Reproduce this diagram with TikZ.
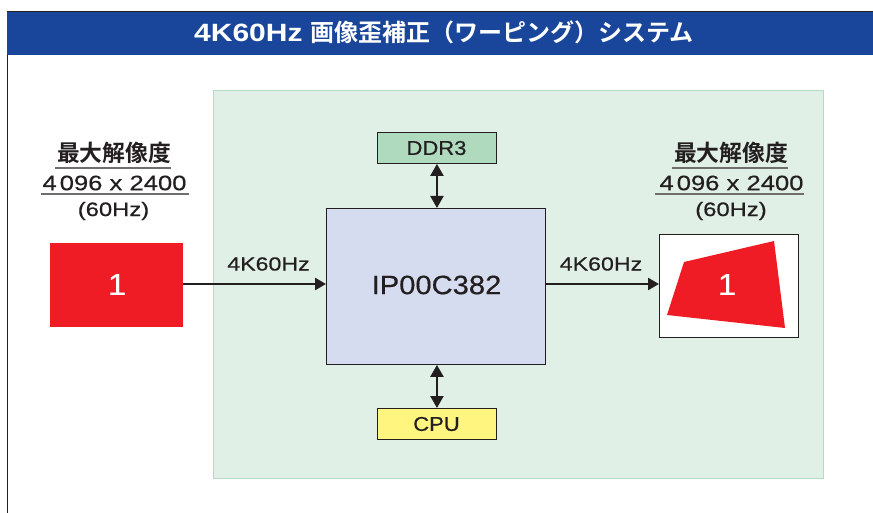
\documentclass[tikz,border=0pt]{standalone}
\usepackage{fontspec}
\setmainfont{Liberation Sans}
\newfontfamily\jpfont{Noto Sans CJK JP}[BoldFont={* Bold}]
\newfontfamily\wideA{Liberation Sans}[FakeStretch=1.1,FakeBold=0.5]
\newfontfamily\wideB{Liberation Sans}[FakeStretch=1.22,FakeBold=0.5]
\newfontfamily\wideT{Liberation Sans Bold}[FakeStretch=1.2]
\definecolor{ink}{HTML}{231F20}
\definecolor{headblue}{HTML}{19469A}
\definecolor{panelgreen}{HTML}{E1F0E6}
\definecolor{paneledge}{HTML}{B5DCC3}
\definecolor{mainblue}{HTML}{D6DCF0}
\definecolor{ddrgreen}{HTML}{B0DABE}
\definecolor{cpuyellow}{HTML}{FFF57F}
\definecolor{redbox}{HTML}{EF1C25}
\usetikzlibrary{arrows.meta}
\tikzset{
  txta/.style={text=ink,inner sep=0pt,font=\fontsize{#1}{#1}\selectfont\wideA},
  txtb/.style={text=ink,inner sep=0pt,font=\fontsize{#1}{#1}\selectfont\wideB},
  jptxt/.style={text=ink,inner sep=0pt,font=\fontsize{#1}{#1}\selectfont\jpfont\bfseries},
  onetxt/.style={text=white,inner sep=0pt,font=\fontsize{30}{30}\selectfont\wideA},
  box/.style={draw=ink,line width=0.9pt,inner sep=0pt},
  flow/.style={draw=ink,line width=2.5pt,-{Triangle[length=11pt,width=12pt]}},
  dflow/.style={draw=ink,line width=2.3pt,{Triangle[length=12pt,width=13pt]}-{Triangle[length=12pt,width=13pt]}},
  rule/.style={draw=ink!65,line width=1.3pt}
}
\begin{document}
\begin{tikzpicture}[x=1pt,y=-1pt]
\useasboundingbox (0,0) rectangle (873,513);
\fill[white] (0,0) rectangle (873,513);
% frame
\draw[draw=ink,line width=1pt] (7.5,513) -- (7.5,12) -- (873,12);
\node[fill=headblue,minimum width=866pt,minimum height=43pt,inner sep=0pt,anchor=north west] (head) at (7,12) {};
\node[text=white,inner sep=0pt,anchor=base west] (title) at (194,41.5) {\fontsize{25}{25}\selectfont\wideT 4K60Hz\hspace{8pt}\fontsize{24}{24}\selectfont\jpfont\bfseries 画像歪補正（ワーピング）システム};
% panel
\node[fill=panelgreen,draw=paneledge,line width=1.4pt,minimum width=610pt,minimum height=388pt,inner sep=0pt,anchor=north west] (panel) at (213,90) {};
% boxes
\node[box,fill=mainblue,minimum width=219pt,minimum height=156pt,anchor=north west] (main) at (326,208) {};
\node[txta=26.5] at (436.5,285) {IP00C382};
\node[box,fill=ddrgreen,minimum width=119pt,minimum height=31pt,anchor=north west] (ddr) at (377,132) {};
\node[txta=20] at (436.5,148) {DDR3};
\node[box,fill=cpuyellow,minimum width=119pt,minimum height=31pt,anchor=north west] (cpu) at (377,408) {};
\node[txta=20] at (436.5,424) {CPU};
\node[fill=redbox,minimum width=133pt,minimum height=84pt,inner sep=0pt,anchor=north west] (src) at (50,243) {};
\node[onetxt] at (117,284.5) {1};
\node[draw=ink,line width=1pt,fill=white,minimum width=139pt,minimum height=103pt,inner sep=0pt,anchor=north west] (dst) at (659,234) {};
\fill[redbox] (684,262) -- (774,241) -- (785,328) -- (667,315) -- cycle;
\node[onetxt] at (727,284.5) {1};
% connectors
\coordinate (mainw) at (326,284);
\coordinate (maine) at (545,284);
\coordinate (dstw) at (659,284);
\coordinate (srce) at (183,284);
\draw[flow] (srce) -- (mainw);
\draw[flow] (maine) -- (dstw);
\draw[dflow] (ddr.south) -- (main.north-|ddr.south);
\draw[dflow] (cpu.north) -- (main.south-|cpu.north);
\node[txtb=19] at (268.5,264) {4K60Hz};
\node[txtb=19] at (601,264) {4K60Hz};
% left captions
\node[jptxt=22.8] (la) at (114,153) {最大解像度};
\node[txtb=21] (lb) at (114.5,183) {4\kern3pt 096 x 2400};
\node[txtb=19.5] (lc) at (113.5,211) {(60Hz)};
\coordinate (la1) at (55,168); \coordinate (la2) at (170.5,168);
\coordinate (lb1) at (41,194); \coordinate (lb2) at (189,194);
\draw[rule] (la1) -- (la2);
\draw[rule] (lb1) -- (lb2);
% right captions
\node[jptxt=22.8] (ra) at (731,153) {最大解像度};
\node[txtb=21] (rb) at (731.5,183) {4\kern3pt 096 x 2400};
\node[txtb=19.5] (rc) at (731,211) {(60Hz)};
\coordinate (ra1) at (672,168); \coordinate (ra2) at (788,168);
\coordinate (rb1) at (655,194); \coordinate (rb2) at (804,194);
\draw[rule] (ra1) -- (ra2);
\draw[rule] (rb1) -- (rb2);
\end{tikzpicture}
\end{document}
